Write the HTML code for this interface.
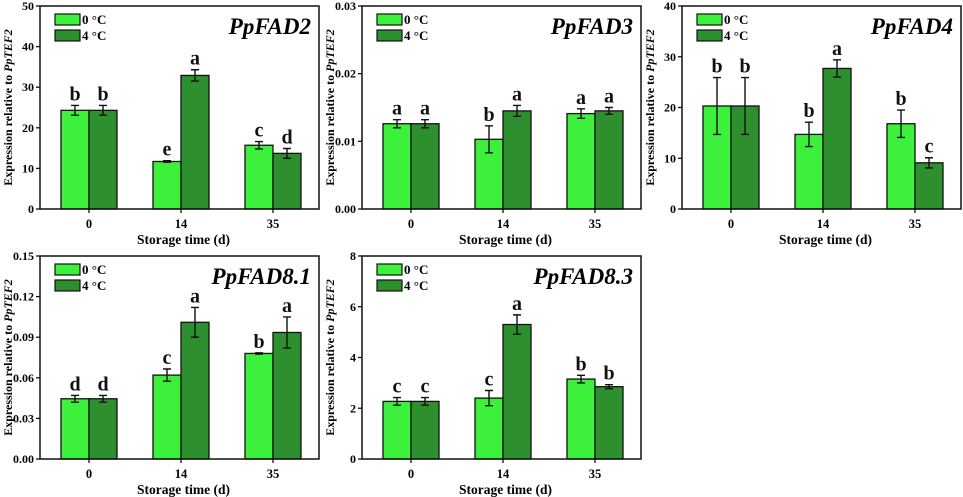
<!DOCTYPE html>
<html><head><meta charset="utf-8"><style>
body{margin:0;background:#fff;}
svg{display:block;font-family:"Liberation Serif",serif;}
</style></head><body>
<svg id="c" width="963" height="497" viewBox="0 0 963 497"></svg>
<script>
const categories = ["0","14","35"];
const fad2_0 = [24.3, 11.7, 15.7], fad2_0e = [1.2, 0.2, 0.9], fad2_4 = [24.3, 32.9, 13.7], fad2_4e = [1.2, 1.4, 1.2];
const fad2_l0 = ["b","e","c"], fad2_l4 = ["b","a","d"];
const fad3_0 = [0.0126, 0.0103, 0.0141], fad3_0e = [0.0006, 0.002, 0.0007], fad3_4 = [0.0126, 0.0145, 0.0145], fad3_4e = [0.0006, 0.0008, 0.0005];
const fad3_l0 = ["a","b","a"], fad3_l4 = ["a","a","a"];
const fad4_0 = [20.3, 14.7, 16.8], fad4_0e = [5.6, 2.4, 2.7], fad4_4 = [20.3, 27.7, 9.1], fad4_4e = [5.6, 1.7, 1.0];
const fad4_l0 = ["b","b","b"], fad4_l4 = ["b","a","c"];
const fad81_0 = [0.0445, 0.062, 0.078], fad81_0e = [0.0025, 0.0045, 0.0005], fad81_4 = [0.0445, 0.101, 0.0935], fad81_4e = [0.0025, 0.011, 0.0115];
const fad81_l0 = ["d","c","b"], fad81_l4 = ["d","a","a"];
const fad83_0 = [2.27, 2.4, 3.15], fad83_0e = [0.15, 0.3, 0.15], fad83_4 = [2.27, 5.3, 2.85], fad83_4e = [0.15, 0.38, 0.08];
const fad83_l0 = ["c","c","b"], fad83_l4 = ["c","a","b"];
const ticks2 = ["0","10","20","30","40","50"];
const ticks3 = ["0.00","0.01","0.02","0.03"];
const ticks4 = ["0","10","20","30","40"];
const ticks81 = ["0.00","0.03","0.06","0.09","0.12","0.15"];
const ticks83 = ["0","2","4","6","8"];

const NS="http://www.w3.org/2000/svg", svg=document.getElementById('c');
function mk(tag,attrs,parent,text){const e=document.createElementNS(NS,tag);for(const k in attrs)e.setAttribute(k,attrs[k]);if(text!==undefined)e.textContent=text;(parent||svg).appendChild(e);return e;}

function panel(name,box,ticks,v0,e0,v4,e4,l0,l4){
  const g=mk('g',{});
  
  
  const ymax=parseFloat(ticks[ticks.length-1]);
  const y=v=>box.b-(v/ymax)*(box.b-box.t);
  const xc=i=>box.l+49+i*92;
  const bw=28;
  function bars(vals,errs,lets,off,fill,ser){
    vals.forEach((v,i)=>{
      const x=xc(i)+off;
      const r=mk('rect',{x:x,y:y(v),width:bw,height:box.b-y(v),fill:fill,stroke:'#111','stroke-width':1.3},g);
      
      
      const cx=x+bw/2, yt=y(v+errs[i]), yb=y(v-errs[i]);
      const eb=mk('path',{d:`M${cx},${yt}V${yb}M${cx-4},${yt}H${cx+4}M${cx-4},${yb}H${cx+4}`,stroke:'#111','stroke-width':1.4,fill:'none'},g);
      
      
      const t=mk('text',{x:cx,y:yt-5,'text-anchor':'middle','font-size':20,'font-weight':'bold',fill:'#111'},g,lets[i]);
      
      
    });
  }
  bars(v0,e0,l0,-bw,'#3cf03c','0c');
  bars(v4,e4,l4,0,'#2e8f2e','4c');
  const fr=mk('rect',{x:box.l,y:box.t,width:box.r-box.l,height:box.b-box.t,fill:'none',stroke:'#111','stroke-width':1.5},g);
  
  
  ticks.forEach(tk=>{
    const yy=y(parseFloat(tk));
    mk('line',{x1:box.l-4,x2:box.l,y1:yy,y2:yy,stroke:'#111','stroke-width':1.3},g);
    const t=mk('text',{x:box.l-6,y:yy+4,'text-anchor':'end','font-size':12,'font-weight':'bold'},g,tk);
    
    
  });
  categories.forEach((c,i)=>{
    mk('line',{x1:xc(i),x2:xc(i),y1:box.b,y2:box.b+4,stroke:'#111','stroke-width':1.3},g);
    const t=mk('text',{x:xc(i),y:box.b+19,'text-anchor':'middle','font-size':12.5,'font-weight':'bold'},g,c);
    
    
  });
  const xt=mk('text',{x:(box.l+box.r)/2+4,y:box.b+35,'text-anchor':'middle','font-size':13.5,'font-weight':'bold'},g,'Storage time (d)');
  
  
  const cy=(box.t+box.b)/2, tx=box.l-28;
  const yt=mk('text',{x:tx,y:cy,transform:`rotate(-90 ${tx} ${cy})`,'text-anchor':'middle','font-size':12,'font-weight':'bold'},g);
  
  
  mk('tspan',{},yt,'Expression relative to ');
  mk('tspan',{'font-style':'italic'},yt,'PpTEF2');
  const ti=mk('text',{x:box.r-8,y:box.t+28,'text-anchor':'end','font-size':23,'font-weight':'bold','font-style':'italic'},g,name);
  
  
  [['0 °C','#3cf03c',8],['4 °C','#2e8f2e',24]].forEach(([lab,col,dy])=>{
    const lg=mk('g',{},g);
    
    
    mk('rect',{x:box.l+15,y:box.t+dy,width:25,height:11,fill:col,stroke:'#111','stroke-width':1.2},lg);
    mk('text',{x:box.l+42,y:box.t+dy+10,'font-size':13,'font-weight':'bold'},lg,lab);
  });
}
panel('PpFAD2',{l:40,r:319,t:6,b:209},ticks2,fad2_0,fad2_0e,fad2_4,fad2_4e,fad2_l0,fad2_l4);
panel('PpFAD3',{l:362,r:641,t:6,b:209},ticks3,fad3_0,fad3_0e,fad3_4,fad3_4e,fad3_l0,fad3_l4);
panel('PpFAD4',{l:682,r:961,t:6,b:209},ticks4,fad4_0,fad4_0e,fad4_4,fad4_4e,fad4_l0,fad4_l4);
panel('PpFAD8.1',{l:40,r:319,t:256,b:459},ticks81,fad81_0,fad81_0e,fad81_4,fad81_4e,fad81_l0,fad81_l4);
panel('PpFAD8.3',{l:362,r:641,t:256,b:459},ticks83,fad83_0,fad83_0e,fad83_4,fad83_4e,fad83_l0,fad83_l4);
</script>
</body></html>
